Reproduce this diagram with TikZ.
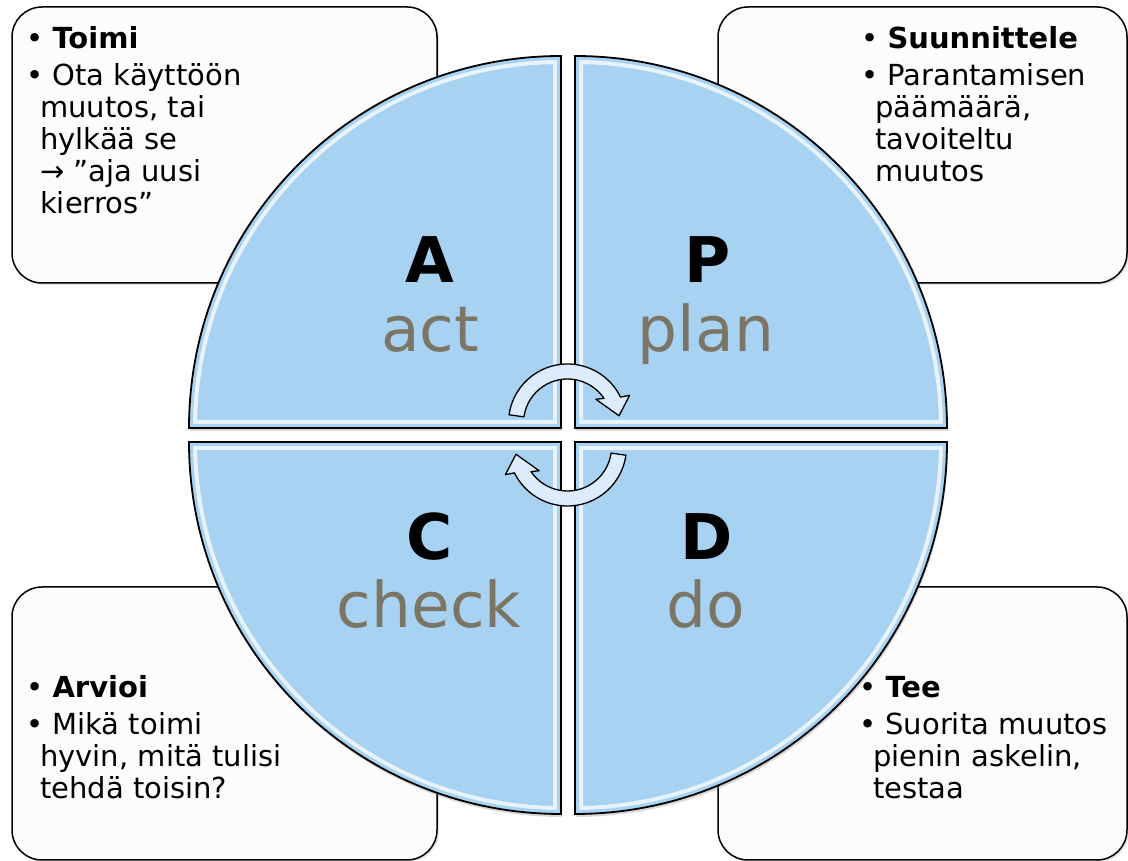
\documentclass[tikz,border=0pt]{standalone}
\usepackage{fontspec}
\setmainfont{DejaVu Sans}
\usetikzlibrary{shadows}
\definecolor{quadblue}{RGB}{168,210,242}
\definecolor{boxgray}{RGB}{252,252,252}
\definecolor{wordgray}{RGB}{122,117,101}
\definecolor{arrowblue}{RGB}{221,236,250}
\newcommand{\indline}{\hspace*{14pt}}
\tikzset{
  infobox/.style={draw=black, line width=1.5pt, fill=boxgray, rounded corners=30pt,
    drop shadow={opacity=0.2, shadow xshift=2pt, shadow yshift=-2pt}},
  quadshape/.style={insert path={(\cx,\cy) -- ++(\sa:372)
    arc[start angle=\sa, end angle=\sa-90, radius=372] -- cycle}},
  quad/.style={fill=quadblue, drop shadow={opacity=0.3, shadow xshift=1pt, shadow yshift=-3pt}},
  quadedge/.style={draw=black, line width=1.8pt},
  infotext/.style={anchor=base west, inner sep=0pt, font=\fontsize{29}{32}\selectfont},
  bigletter/.style={anchor=base, inner sep=0pt, font=\fontsize{63}{70}\selectfont\bfseries},
  phaseword/.style={anchor=base, inner sep=0pt, text=wordgray, font=\fontsize{63}{70}\selectfont},
  cyclearrow/.style={draw=black, line width=1.3pt, fill=arrowblue, line join=round}
}
\begin{document}
\begin{tikzpicture}[x=1pt,y=1pt]
\useasboundingbox (0,0) rectangle (1128,861);
\fill[white] (0,0) rectangle (1128,861);

% boxes behind the circle
\draw[infobox] (12,578) rectangle (437,854);
\draw[infobox] (718,578) rectangle (1127,854);
\draw[infobox] (12,1) rectangle (437,274);
\draw[infobox] (718,1) rectangle (1127,274);

% four quarters of the circle
\foreach \cx/\cy/\sa in {561/433/180,575/433/90,575/419/0,561/419/270}{
  \fill[quad, quadshape];
  \begin{scope}
    \clip[quadshape];
    \draw[white, opacity=0.75, line width=16pt, quadshape];
    \draw[quadblue, line width=8pt, quadshape];
  \end{scope}
  \draw[quadedge, quadshape];
}

% texts in the boxes
\node[infotext] (acttext) at (26,812) {\begin{tabular}[t]{@{}l@{}}
\textbullet~\textbf{Toimi}\\[5pt]
\textbullet~Ota käyttöön\\
\indline muutos, tai\\
\indline hylkää se\\
\indline → ”aja uusi\\
\indline kierros”
\end{tabular}};
\node[infotext] (plantext) at (861,812) {\begin{tabular}[t]{@{}l@{}}
\textbullet~\textbf{Suunnittele}\\[5pt]
\textbullet~Parantamisen\\
\indline päämäärä,\\
\indline tavoiteltu\\
\indline muutos
\end{tabular}};
\node[infotext] (checktext) at (26,163) {\begin{tabular}[t]{@{}l@{}}
\textbullet~\textbf{Arvioi}\\[5pt]
\textbullet~Mikä toimi\\
\indline hyvin, mitä tulisi\\
\indline tehdä toisin?
\end{tabular}};
\node[infotext] (dotext) at (859,163) {\begin{tabular}[t]{@{}l@{}}
\textbullet~\textbf{Tee}\\[5pt]
\textbullet~Suorita muutos\\
\indline pienin askelin,\\
\indline testaa
\end{tabular}};

% letters and words in the quarters
\node[bigletter] (A) at (430,578) {A};
\node[phaseword] (act) at (430,509) {act};
\node[bigletter] (P) at (708,578) {P};
\node[phaseword] (plan) at (706,509) {plan};
\node[bigletter] (C) at (430,301) {C};
\node[phaseword] (check) at (429,233) {check};
\node[bigletter] (D) at (707,301) {D};
\node[phaseword] (do) at (706,233) {do};

% turning arrows in the middle
\begin{scope}[shift={(567.5,426)}]
\foreach \rot in {0,180}
  \draw[cyclearrow, rotate=\rot, shift={(0,12)}] (172:59)
    arc[start angle=172, end angle=26, radius=59] -- (24:68) -- (8:52)
    -- (40:37) -- (34:44) arc[start angle=34, end angle=172, radius=44] -- cycle;
\end{scope}
\end{tikzpicture}
\end{document}
